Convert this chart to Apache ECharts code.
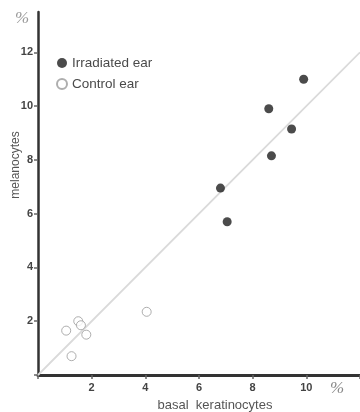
<!DOCTYPE html>
<html>
<head>
<meta charset="utf-8">
<script src="https://cdn.jsdelivr.net/npm/echarts@6/dist/echarts.min.js"></script>
<style>
  html, body { margin: 0; padding: 0; background: #fff; }
  #chart { width: 360px; height: 412px; }
</style>
</head>
<body>
<div id="chart"></div>
<script>
// values (% basal keratinocytes, % melanocytes)
var irradiated = [
    [9.9, 11.0], [8.6, 9.9], [9.45, 9.15], [8.7, 8.15], [6.8, 6.95], [7.05, 5.7]
];
var control = [
    [1.05, 1.65], [1.5, 2.0], [1.6, 1.85], [1.8, 1.5], [1.25, 0.7], [4.05, 2.35]
];
var identityLine = [[0, 0], [12, 12]];
var xTicks = [2, 4, 6, 8, 10];
var yTicks = [2, 4, 6, 8, 10, 12];

var chartDom = document.getElementById('chart');
var myChart = echarts.init(chartDom);
var option;

var axisFont = 'Liberation Sans, Arial, sans-serif';

option = {
    animation: false,
    grid: {
        left: 38,
        right: 0,
        top: 12,
        bottom: 37,
        containLabel: false,
        outerBoundsMode: 'none'
    },
    legend: {
        orient: 'vertical',
        left: 51,
        top: 51,
        itemGap: 7,
        itemWidth: 10,
        itemHeight: 10,
        textStyle: {
            color: '#4a4a4a',
            fontSize: 13.5,
            fontFamily: axisFont
        },
        data: [
            { name: 'Irradiated ear', icon: 'circle' },
            { name: 'Control ear', icon: 'circle' }
        ]
    },
    xAxis: {
        type: 'value',
        min: 0,
        max: 12,
        interval: 2,
        splitLine: { show: false },
        axisLine: { lineStyle: { color: '#333', width: 3 } },
        axisTick: { length: 4, lineStyle: { color: '#666', width: 1.5 } },
        axisLabel: {
            color: '#444',
            fontSize: 11,
            fontWeight: 'bold',
            fontFamily: axisFont,
            margin: 7,
            formatter: function (v) {
                return xTicks.indexOf(v) >= 0 ? String(v) : '';
            }
        }
    },
    yAxis: {
        type: 'value',
        min: 0,
        max: 13.5,
        interval: 2,
        splitLine: { show: false },
        axisLine: { lineStyle: { color: '#333', width: 2.5 } },
        axisTick: { length: 4, lineStyle: { color: '#666', width: 1.5 } },
        axisLabel: {
            color: '#444',
            fontSize: 11,
            fontWeight: 'bold',
            fontFamily: axisFont,
            margin: 5,
            showMaxLabel: false,
            formatter: function (v) {
                return yTicks.indexOf(v) >= 0 ? String(v) : '';
            }
        }
    },
    graphic: [
        {
            type: 'text',
            x: 16,
            y: 165,
            rotation: Math.PI / 2,
            style: {
                text: 'melanocytes',
                fill: '#555',
                font: '12px Liberation Sans, Arial, sans-serif',
                align: 'center',
                verticalAlign: 'middle'
            }
        },
        {
            type: 'text',
            x: 215,
            y: 405,
            style: {
                text: 'basal  keratinocytes',
                fill: '#555',
                font: '13px Liberation Sans, Arial, sans-serif',
                align: 'center',
                verticalAlign: 'middle'
            }
        },
        {
            type: 'text',
            left: 15,
            top: 10,
            style: {
                text: '%',
                fill: '#999',
                font: 'italic 17px Liberation Serif, serif'
            }
        },
        {
            type: 'text',
            left: 330,
            top: 380,
            style: {
                text: '%',
                fill: '#888',
                font: 'italic 17px Liberation Serif, serif'
            }
        }
    ],
    series: [
        {
            name: 'identity',
            type: 'line',
            data: identityLine,
            symbol: 'none',
            silent: true,
            lineStyle: { color: '#dadada', width: 1.8 },
            z: 1
        },
        {
            name: 'Irradiated ear',
            type: 'scatter',
            symbol: 'circle',
            symbolSize: 9,
            itemStyle: { color: '#1e1e1e' },
            data: irradiated,
            z: 3
        },
        {
            name: 'Control ear',
            type: 'scatter',
            symbol: 'circle',
            symbolSize: 9,
            itemStyle: {
                color: '#fff',
                borderColor: '#9a9a9a',
                borderWidth: 1
            },
            data: control,
            z: 3
        }
    ]
};

option && myChart.setOption(option);
</script>
</body>
</html>
